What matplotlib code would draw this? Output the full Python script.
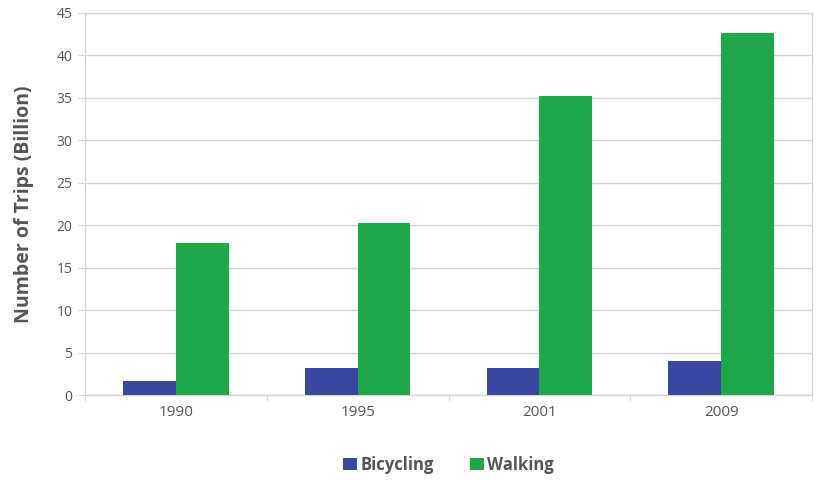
import numpy as np
import matplotlib.pyplot as plt

plt.rcParams['font.family'] = ['Open Sans', 'DejaVu Sans']
plt.rcParams['font.size'] = 9

years = ['1990', '1995', '2001', '2009']
bicycling = [1.6, 3.2, 3.2, 4.0]
walking = [17.9, 20.3, 35.2, 42.6]
y_ticks = [0, 5, 10, 15, 20, 25, 30, 35, 40, 45]

BLUE = '#3a47a0'
GREEN = '#1ea84a'
GRID = '#d4d4d4'
TEXT = '#555555'

fig = plt.figure(figsize=(8.17, 4.8), dpi=100)
ax = fig.add_axes([0.104, 0.177, 0.89, 0.796])

x = np.arange(len(years))
w = 0.29
ax.bar(x - w / 2, bicycling, width=w, color=BLUE, label='Bicycling', zorder=3)
ax.bar(x + w / 2, walking, width=w, color=GREEN, label='Walking', zorder=3)

ax.set_xlim(-0.5, len(years) - 0.5)
ax.set_ylim(0, 45)
ax.set_yticks(y_ticks)
ax.set_xticks(x)
ax.set_xticklabels(years, fontsize=11, color=TEXT)
ax.set_xticks(np.arange(-0.5, len(years)), minor=True)
ax.tick_params(axis='x', which='major', length=0, pad=7)
ax.tick_params(axis='x', which='minor', length=4, color=GRID)
ax.tick_params(axis='y', length=5, color=GRID, labelsize=10, labelcolor=TEXT, pad=4)
ax.grid(True, axis='y', color=GRID, linewidth=1, zorder=0)

for s in ax.spines.values():
    s.set_color(GRID)
    s.set_linewidth(1)

ax.set_ylabel('Number of Trips (Billion)', fontsize=14, fontweight='bold', color=TEXT, labelpad=16)

ax.legend(loc='upper center', bbox_to_anchor=(0.5, -0.12), ncol=2, frameon=False,
          handlelength=0.8, handleheight=0.8, handletextpad=0.2,
          columnspacing=2.2, labelcolor=TEXT, prop={'weight': 'bold', 'size': 12})

plt.savefig('out.png', dpi=100)
